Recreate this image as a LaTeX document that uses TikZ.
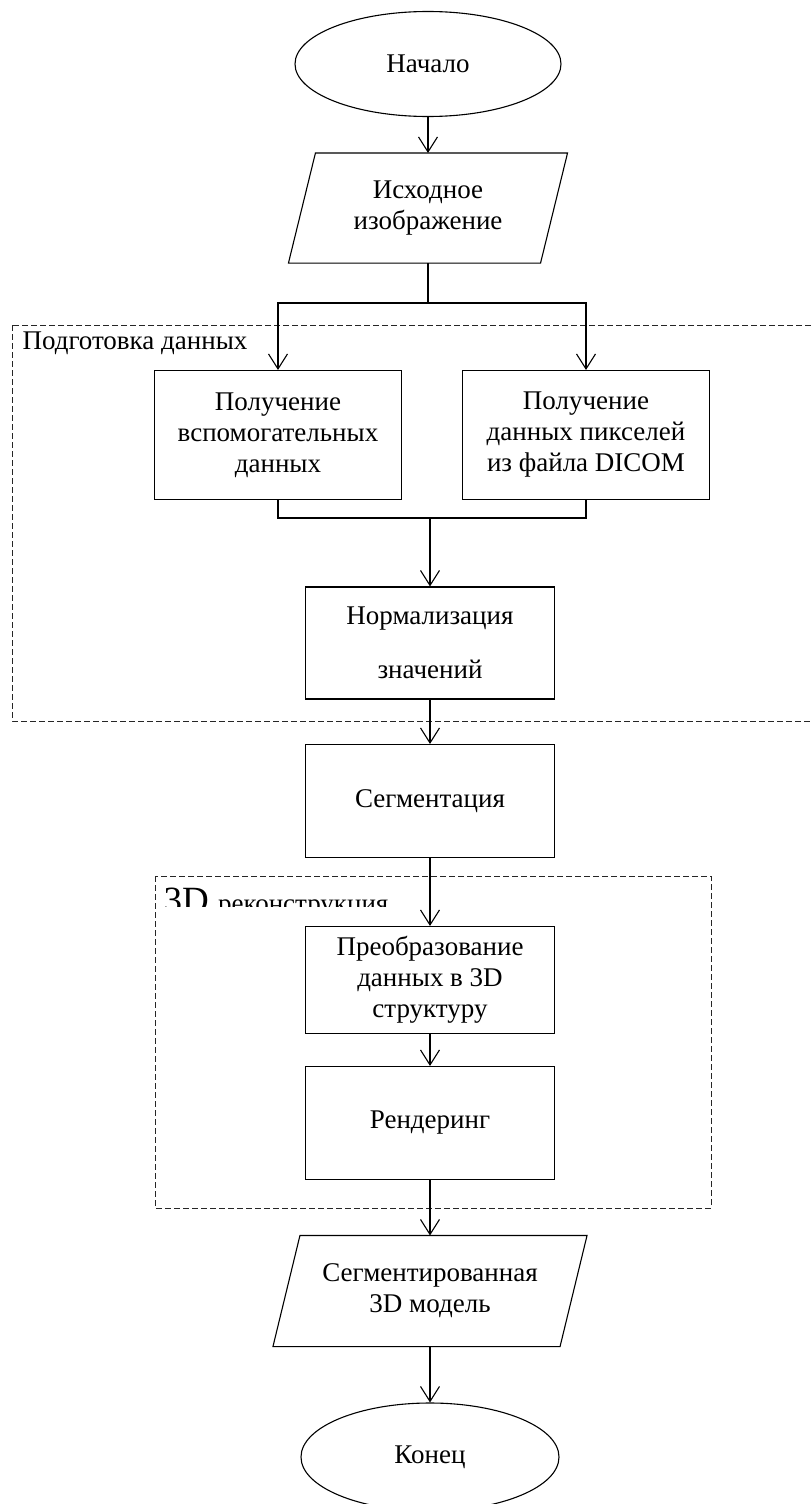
\documentclass[tikz,border=0pt]{standalone}
\usepackage{fontspec}
\setmainfont{Liberation Serif}
\usetikzlibrary{arrows.meta,shapes.geometric}

\begin{document}
\begin{tikzpicture}[x=1pt, y=-1pt, line width=1.1pt,
  >={Straight Barb[length=15pt,width=19pt]},
  font=\fontsize{27}{31}\selectfont,
  term/.style={draw, ellipse, inner sep=0pt},
  proc/.style={draw, rectangle, minimum width=249pt, inner sep=0pt, align=center},
  io/.style={inner sep=0pt, align=center},
  group/.style={draw=black!85, line width=0.9pt, dash pattern=on 6pt off 3pt}]

\useasboundingbox (0,0) rectangle (811,1504);

% stage frames
\draw[group] (12,325) rectangle (830,721);
\draw[group] (155,876) rectangle (711,1208);
\node[anchor=base west, inner sep=0pt] (prep) at (22,349) {Подготовка данных};
\begin{scope}
\clip (155,876) rectangle (711,906);
\node[anchor=base west, inner sep=0pt] (recon) at (163,912)
  {\fontsize{37}{37}\selectfont 3D \fontsize{27}{31}\selectfont реконструкция};
\end{scope}

\node[term, minimum width=266pt, minimum height=105pt] (start) at (428,64) {Начало};
\node[io, minimum width=251pt, minimum height=109pt] (src) at (428,208) {Исходное\\изображение};
\node[proc, minimum width=247pt, minimum height=129pt] (aux) at (278,435) {Получение\\вспомогательных\\данных};
\node[proc, minimum width=247pt, minimum height=129pt] (pix) at (586,435) {Получение\\данных пикселей\\из файла DICOM};
\node[proc, minimum height=112pt] (norm) at (430,643) {Нормализация\\[23pt]значений};
\node[proc, minimum height=113pt] (seg) at (430,801) {Сегментация};
\node[proc, minimum height=107pt] (conv) at (430,980) {Преобразование\\данных в 3D\\структуру};
\node[proc, minimum height=113pt] (rend) at (430,1123) {Рендеринг};
\node[io, minimum width=286pt, minimum height=110pt] (res) at (430,1291) {Сегментированная\\3D модель};
\node[term, minimum width=258pt, minimum height=108pt] (stop) at (430,1457) {Конец};

\foreach \n in {src,res}
  \draw ([xshift=13.5pt]\n.north west) -- ([xshift=13.5pt]\n.north east)
     -- ([xshift=-13.5pt]\n.south east) -- ([xshift=-13.5pt]\n.south west) -- cycle;

\coordinate (split) at (428,303);
\coordinate (merge) at (430,518);

\draw[->] (start) -- (src);
\draw (src.south) -- (split);
\draw[->] (split) -| (aux.north);
\draw[->] (split) -| (pix.north);
\draw (aux.south) |- (merge) -| (pix.south);
\draw[->] (merge) -- (norm.north);
\draw[->] (norm) -- (seg);
\draw[->] (seg) -- (conv);
\draw[->] (conv) -- (rend);
\draw[->] (rend) -- (res);
\draw[->] (res) -- (stop);
\end{tikzpicture}
\end{document}
